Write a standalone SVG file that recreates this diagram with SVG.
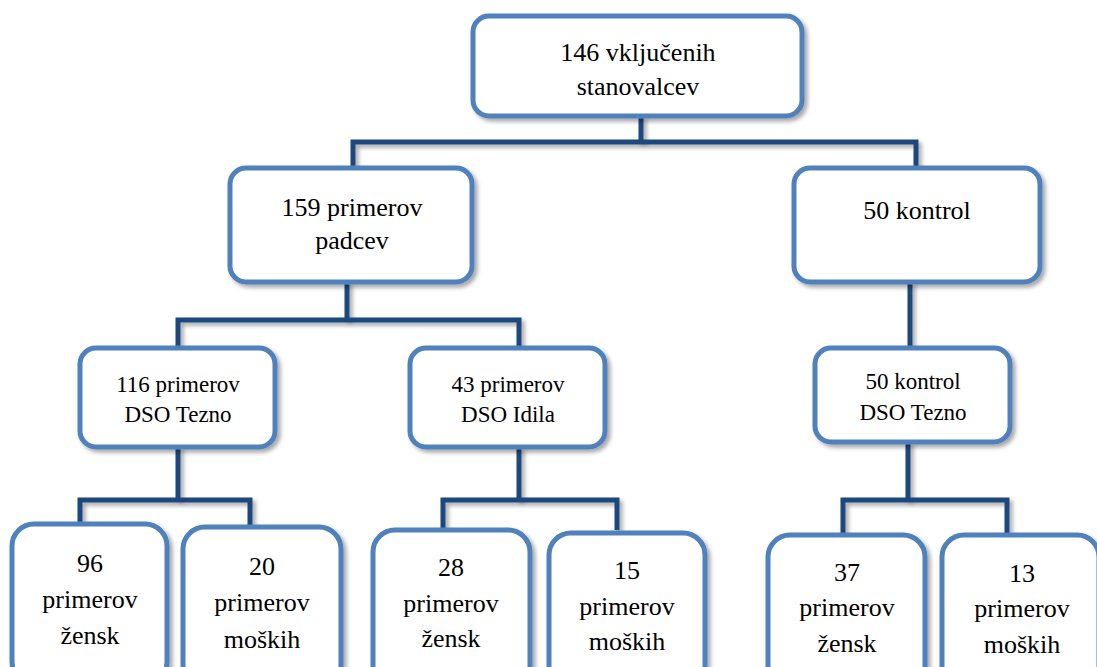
<svg xmlns="http://www.w3.org/2000/svg" width="1097" height="667" viewBox="0 0 1097 667">
<defs>
<filter id="sh" filterUnits="userSpaceOnUse" x="0" y="0" width="1097" height="700">
<feDropShadow dx="3" dy="3" stdDeviation="2" flood-color="#000" flood-opacity="0.35"/>
</filter>
<style>
.box{fill:#fff;stroke:#4F81BD;stroke-width:5;filter:url(#sh)}
.con{fill:none;stroke:#1F497D;stroke-width:5;filter:url(#sh)}
.t1{font-size:26px;fill:#000;text-anchor:middle}
.t2{font-size:23px;fill:#000;text-anchor:middle}
</style>
</defs>
<rect width="1097" height="667" fill="#fff"/>
<g id="connectors">
<polyline class="con" points="641,116 641,142"/>
<polyline class="con" points="353,170 353,142 916,142 916,170"/>
<polyline class="con" points="347,282 347,320"/>
<polyline class="con" points="178,348 178,320 519,320 519,348"/>
<polyline class="con" points="910,282 910,348"/>
<polyline class="con" points="178,447 178,500"/>
<polyline class="con" points="80,522 80,500 250,500 250,526"/>
<polyline class="con" points="519,447 519,500"/>
<polyline class="con" points="443,528 443,500 617,500 617,530"/>
<polyline class="con" points="908,442 908,500"/>
<polyline class="con" points="843,533 843,500 1007,500 1007,533"/>
</g>
<g font-family="'Liberation Serif', 'DejaVu Serif', 'Times New Roman', Times, serif">
<g id="n146"><rect class="box" x="473" y="16" width="329" height="100" rx="16"/>
<text class="t1" x="638" y="61">146 vključenih</text><text class="t1" x="638" y="95">stanovalcev</text></g>
<g id="n159"><rect class="box" x="230" y="168" width="242" height="114" rx="16"/>
<text class="t1" x="352" y="216">159 primerov</text><text class="t1" x="352" y="249">padcev</text></g>
<g id="n50k"><rect class="box" x="794" y="168" width="246" height="114" rx="16"/>
<text class="t1" x="917" y="219">50 kontrol</text></g>
<g id="n116"><rect class="box" x="80" y="348" width="195" height="99" rx="16"/>
<text class="t2" x="178" y="392">116 primerov</text><text class="t2" x="178" y="422">DSO Tezno</text></g>
<g id="n43"><rect class="box" x="410" y="348" width="195" height="99" rx="16"/>
<text class="t2" x="508" y="392">43 primerov</text><text class="t2" x="508" y="422">DSO Idila</text></g>
<g id="n50t"><rect class="box" x="815" y="348" width="195" height="94" rx="16"/>
<text class="t2" x="913" y="389">50 kontrol</text><text class="t2" x="913" y="420">DSO Tezno</text></g>
<g id="n96"><rect class="box" x="12" y="524" width="155" height="160" rx="22"/>
<text class="t1" x="90" y="572">96</text><text class="t1" x="90" y="608">primerov</text><text class="t1" x="90" y="644">žensk</text></g>
<g id="n20"><rect class="box" x="183" y="527" width="158" height="160" rx="22"/>
<text class="t1" x="262" y="575">20</text><text class="t1" x="262" y="611">primerov</text><text class="t1" x="262" y="648">moških</text></g>
<g id="n28"><rect class="box" x="373" y="530" width="157" height="160" rx="22"/>
<text class="t1" x="451" y="576">28</text><text class="t1" x="451" y="612">primerov</text><text class="t1" x="451" y="647">žensk</text></g>
<g id="n15"><rect class="box" x="549" y="533" width="156" height="160" rx="22"/>
<text class="t1" x="627" y="579">15</text><text class="t1" x="627" y="615">primerov</text><text class="t1" x="627" y="650">moških</text></g>
<g id="n37"><rect class="box" x="768" y="535" width="157" height="160" rx="22"/>
<text class="t1" x="847" y="581">37</text><text class="t1" x="847" y="616">primerov</text><text class="t1" x="847" y="652">žensk</text></g>
<g id="n13"><rect class="box" x="942" y="535" width="157" height="160" rx="22"/>
<text class="t1" x="1022" y="582">13</text><text class="t1" x="1022" y="617">primerov</text><text class="t1" x="1022" y="653">moških</text></g>
</g>
</svg>
